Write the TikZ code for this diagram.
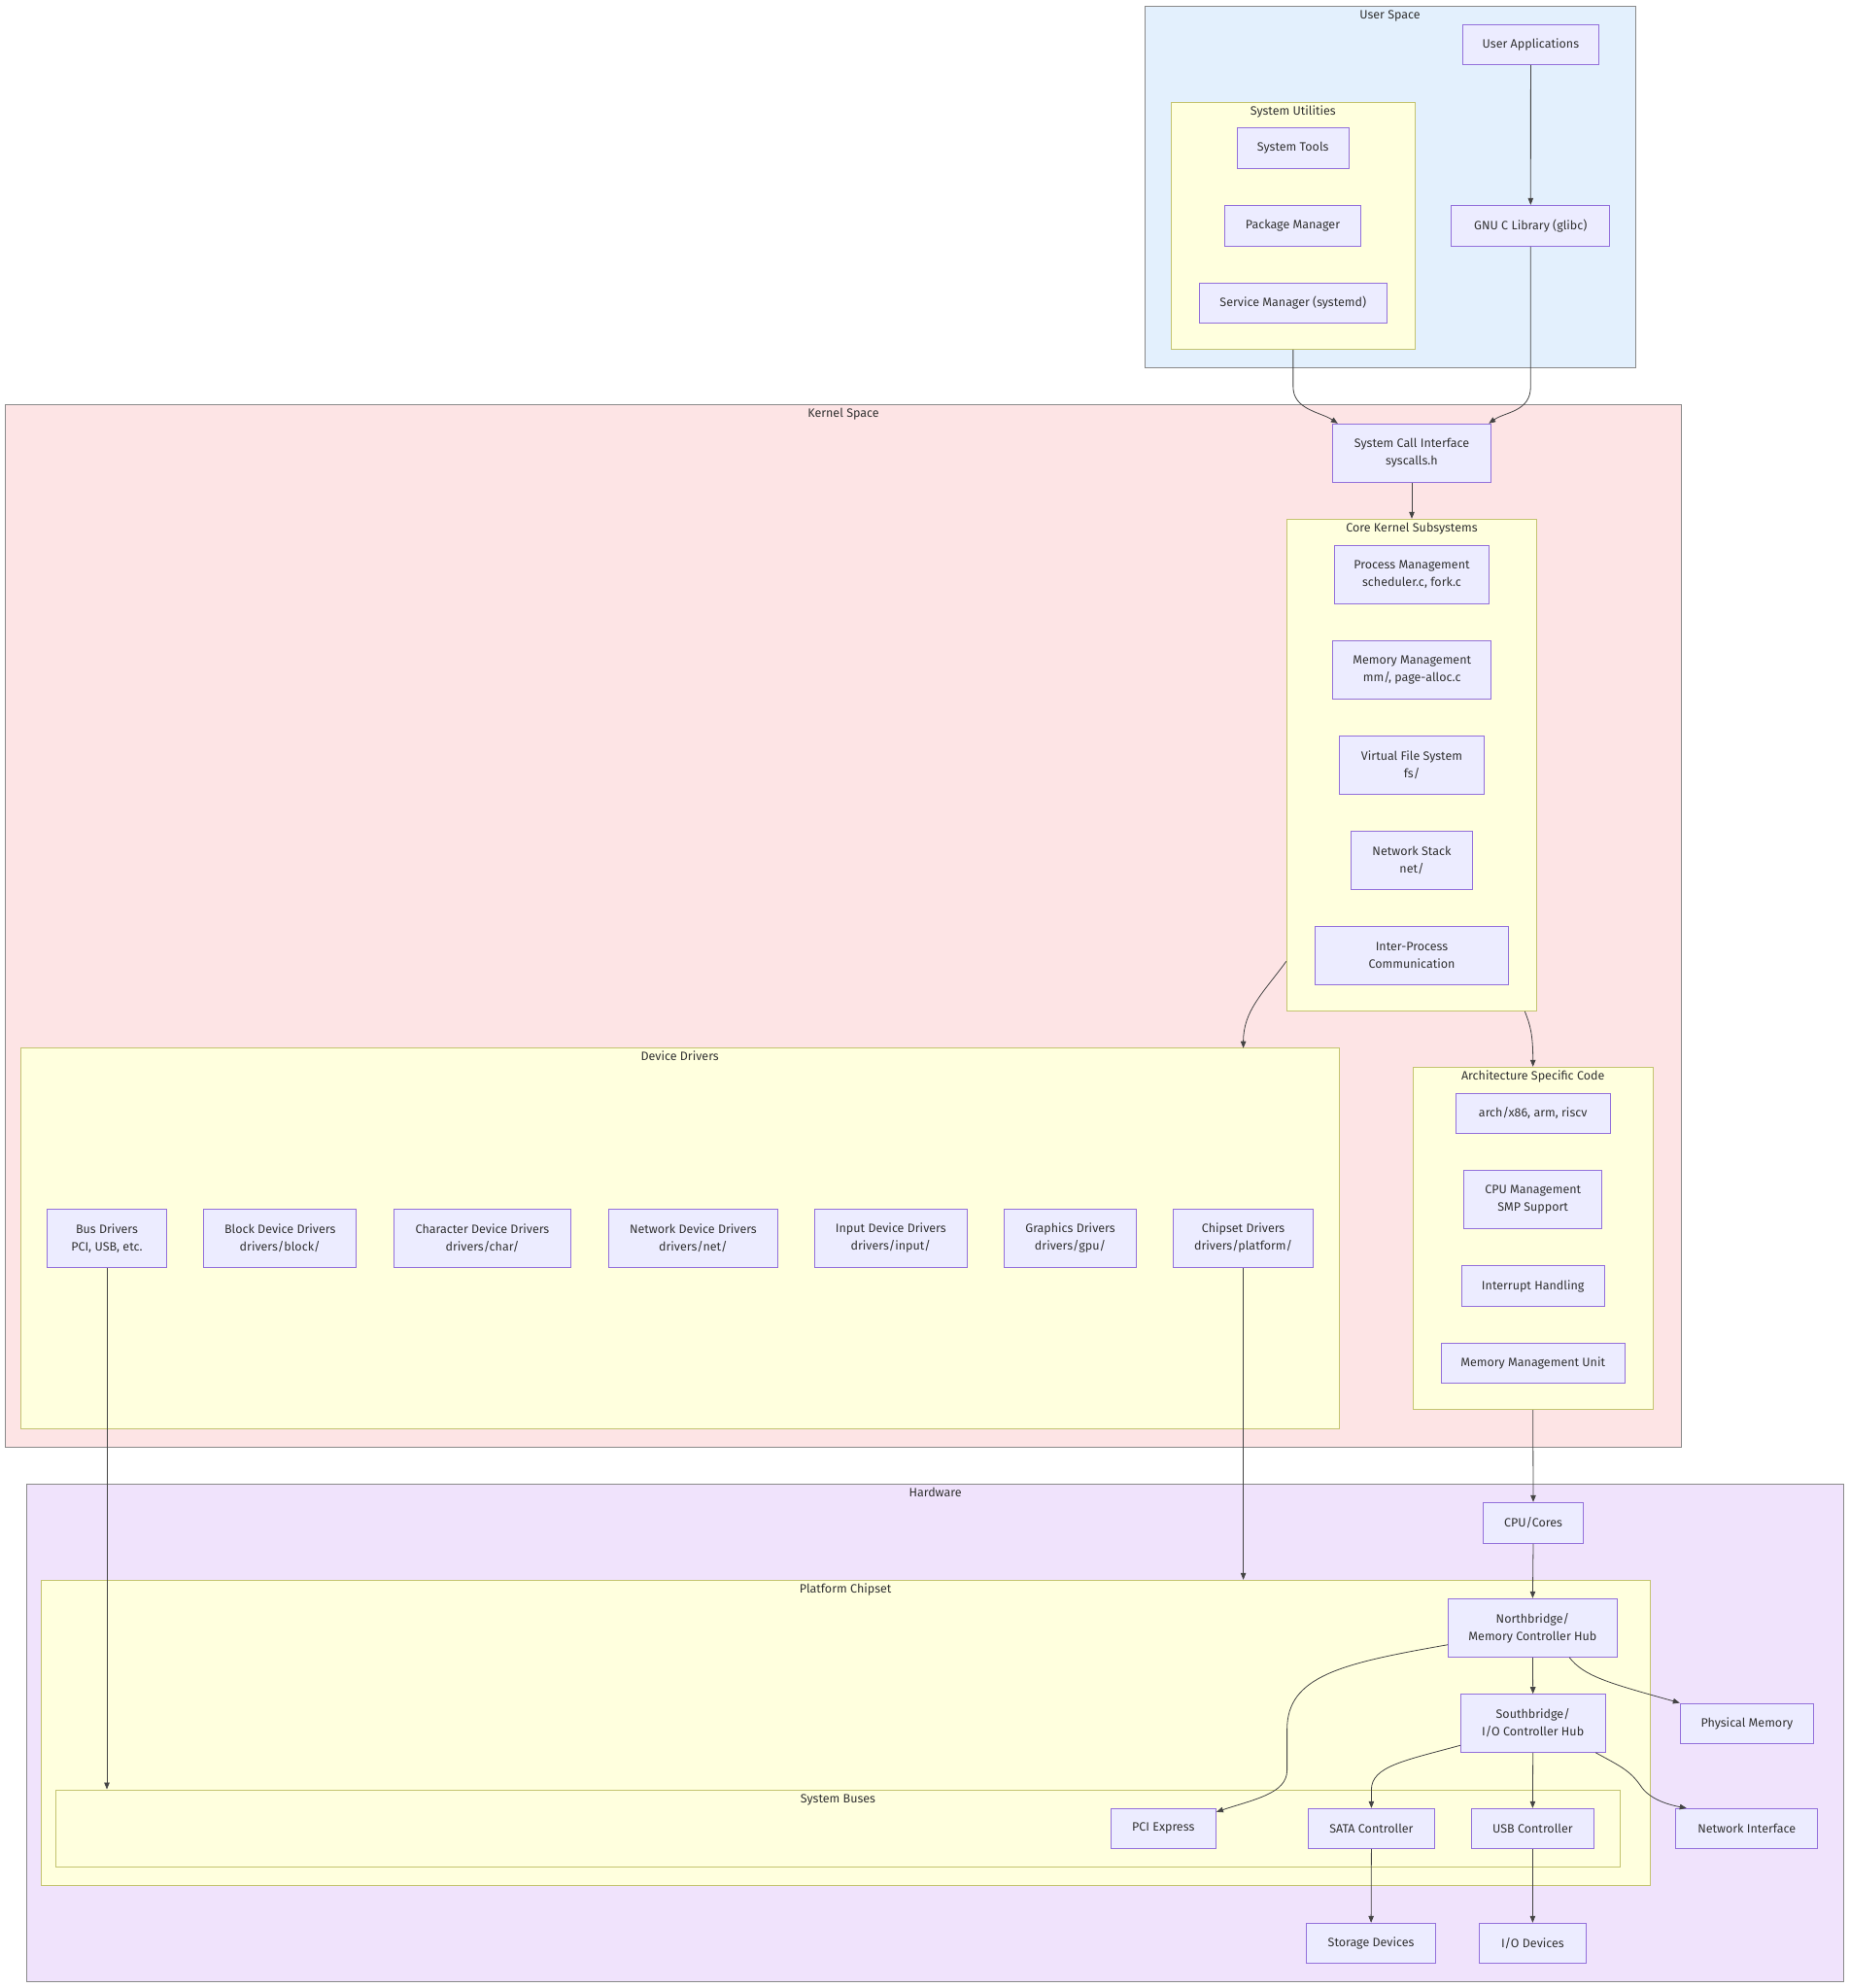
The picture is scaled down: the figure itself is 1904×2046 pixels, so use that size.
\documentclass[tikz,border=0pt]{standalone}
\usepackage{fontspec}
\setmainfont{Fira Sans}
\usetikzlibrary{arrows.meta,calc}
\definecolor{nodefill}{HTML}{ECECFF}
\definecolor{nodeline}{HTML}{9370DB}
\definecolor{clfill}{HTML}{FFFFDE}
\definecolor{clline}{HTML}{C4C470}
\definecolor{userfill}{HTML}{E3F0FD}
\definecolor{kernfill}{HTML}{FDE4E5}
\definecolor{hwfill}{HTML}{F0E3FC}
\definecolor{outerline}{HTML}{8A8A8A}
\definecolor{txt}{HTML}{333333}
\definecolor{edgec}{HTML}{444444}
\begin{document}
\begin{tikzpicture}[x=1pt,y=-1pt,
  every node/.append style={font=\fontsize{12.5}{18}\selectfont, text=txt},
  nd/.style 2 args={draw=nodeline, fill=nodefill, line width=1pt, align=center, inner sep=0pt, minimum width=#1, minimum height=#2},
  grp/.style 2 args={draw=clline, fill=clfill, line width=1pt, inner sep=0pt, minimum width=#1, minimum height=#2},
  outer/.style 2 args={draw=outerline, line width=1pt, inner sep=0pt, minimum width=#1, minimum height=#2},
  ttl/.style={anchor=base, inner sep=0pt},
  ed/.style={draw=edgec, line width=0.8pt, -{Triangle[length=7pt,width=5.5pt]}}
]
\fill[white] (0,0) rectangle (1904,2046);
\useasboundingbox (0,0) rectangle (1904,2046);

% ---------- clusters ----------
\node[outer={505}{372}, fill=userfill] (us) at (1430.5,192) {};
\node[ttl] at ($(us.north)+(0,13.5)$) {User Space};
\node[grp={250.3}{254.3}] (su) at (1330.85,232.15) {};
\node[ttl] at ($(su.north)+(0,13.5)$) {System Utilities};

\node[outer={1725}{1072.6}, fill=kernfill] (ks) at (868,953) {};
\node[ttl] at ($(ks.north)+(0,13.5)$) {Kernel Space};
\node[grp={257.4}{506.1}] (ck) at (1453,787.35) {};
\node[ttl] at ($(ck.north)+(0,13.5)$) {Core Kernel Subsystems};
\node[grp={1357.3}{391.3}] (dd) at (699.65,1274.35) {};
\node[ttl] at ($(dd.north)+(0,13.5)$) {Device Drivers};
\node[grp={246.6}{352.4}] (ar) at (1577.7,1274.5) {};
\node[ttl] at ($(ar.north)+(0,13.5)$) {Architecture Specific Code};

\node[outer={1869.9}{512}, fill=hwfill] (hw) at (962.55,1783.3) {};
\node[ttl] at ($(hw.north)+(0,13.5)$) {Hardware};
\node[grp={1656.1}{314.4}] (pc) at (870.15,1783.5) {};
\node[ttl] at ($(pc.north)+(0,13.5)$) {Platform Chipset};
\node[grp={1610.2}{79.7}] (sbus) at (862.5,1881.85) {};
\node[ttl] at ($(sbus.north)+(0,13.5)$) {System Buses};

% ---------- user space nodes ----------
\node[nd={140.7}{41}] (ua) at (1575.4,45.8) {User Applications};
\node[nd={115.3}{41.6}] (st) at (1330.7,152.5) {System Tools};
\node[nd={140.4}{42}] (pm) at (1330.5,232.3) {Package Manager};
\node[nd={193}{41.4}] (sm) at (1330.8,312) {Service Manager (systemd)};
\node[nd={162.7}{42}] (gl) at (1575.3,232.3) {GNU C Library (glibc)};

% ---------- kernel nodes ----------
\node[nd={163.4}{60}] (sci) at (1453,466.3) {System Call Interface\\syscalls.h};
\node[nd={159.4}{59.6}] (proc) at (1453,591.4) {Process Management\\scheduler.c, fork.c};
\node[nd={163}{59.6}] (mem) at (1453.2,689.4) {Memory Management\\mm/, page-alloc.c};
\node[nd={149.4}{59.5}] (vfs) at (1453,787.4) {Virtual File System\\fs/};
\node[nd={125.4}{60}] (net) at (1453,885.5) {Network Stack\\net/};
\node[nd={199.4}{60}] (ipc) at (1453,983.5) {Inter-Process\\Communication};

\node[nd={123}{60}] (bus) at (110,1274.3) {Bus Drivers\\PCI, USB, etc.};
\node[nd={157}{60}] (blk) at (288.2,1274.3) {Block Device Drivers\\drivers/block/};
\node[nd={181.8}{60}] (chr) at (496.5,1274.3) {Character Device Drivers\\drivers/char/};
\node[nd={174}{60}] (ndd) at (713.4,1274.3) {Network Device Drivers\\drivers/net/};
\node[nd={157.5}{60}] (inp) at (916.8,1274.3) {Input Device Drivers\\drivers/input/};
\node[nd={136}{60}] (gfx) at (1101.5,1274.3) {Graphics Drivers\\drivers/gpu/};
\node[nd={144.2}{60}] (chp) at (1279.6,1274.3) {Chipset Drivers\\drivers/platform/};

\node[nd={158.7}{41.3}] (a86) at (1577.7,1145.7) {arch/x86, arm, riscv};
\node[nd={142}{59.6}] (cpum) at (1577.7,1234.5) {CPU Management\\SMP Support};
\node[nd={147.3}{41.6}] (irq) at (1577.7,1323.5) {Interrupt Handling};
\node[nd={189.3}{41.3}] (mmu) at (1577.7,1403.3) {Memory Management Unit};

% ---------- hardware nodes ----------
\node[nd={103}{42}] (cpu) at (1578,1567.3) {CPU/Cores};
\node[nd={173.6}{60}] (nb) at (1577.4,1675.3) {Northbridge/\\Memory Controller Hub};
\node[nd={148.8}{59.6}] (sb) at (1577.7,1773.5) {Southbridge/\\I/O Controller Hub};
\node[nd={137.2}{41.3}] (phys) at (1797.9,1773.7) {Physical Memory};
\node[nd={108.4}{41}] (pcie) at (1197.2,1881.8) {PCI Express};
\node[nd={129.7}{41}] (sata) at (1411.4,1881.8) {SATA Controller};
\node[nd={126.2}{41}] (usb) at (1577.4,1881.8) {USB Controller};
\node[nd={145.9}{41}] (ni) at (1797.7,1881.8) {Network Interface};
\node[nd={132.6}{41}] (sto) at (1411.1,1999.8) {Storage Devices};
\node[nd={110.2}{41}] (iod) at (1577.4,1999.8) {I/O Devices};

% ---------- edges ----------
\draw[ed] (ua.south) -- (gl.north);
\draw[ed] (su.south) -- ++(0,38) .. controls ($(su.south)+(0,62)$) and ($(sci.north west)+(-12,-12)$) .. ($(sci.north west)+(6,0)$);
\draw[ed] (gl.south) -- ++(0,144) .. controls ($(gl.south)+(0,170)$) and ($(sci.north east)+(14,-12)$) .. ($(sci.north east)+(-3,0)$);
\draw[ed] (sci.south) -- (ck.north);
\draw[ed] ($(ck.west)+(0,202)$) .. controls (1300,1022) and (1279.6,1040) .. (1279.6,1078.7);
\draw[ed] ($(ck.south)+(116.3,0)$) .. controls (1575,1055) and (1577.7,1065) .. (ar.north);
\draw[ed] (ar.south) -- (cpu.north);
\draw[ed] (bus.south) -- (bus.south |- sbus.north);
\draw[ed] (chp.south) -- (chp.south |- pc.north);
\draw[ed] (cpu.south) -- (nb.north);
\draw[ed] (nb.south) -- (sb.north);
\draw[ed] ($(nb.south)+(37.8,0)$) .. controls (1630,1725) and (1655,1732) .. (phys.north west);
\draw[ed] ($(nb.west)+(0,17.4)$) .. controls (1380,1712) and (1324.6,1725) .. (1324.6,1780) -- (1324.6,1822) .. controls (1324.6,1846) and (1290,1852) .. ($(pcie.north east)+(0,4)$);
\draw[ed] ($(sb.west)+(0,22.8)$) .. controls (1445,1812) and (1411.4,1818) .. (1411.4,1842) -- (sata.north);
\draw[ed] (sb.south) -- (usb.north);
\draw[ed] ($(sb.south)+(64.6,0)$) .. controls (1668,1818) and (1678,1822) .. (1690,1840) .. controls (1700,1853) and (1720,1858) .. ($(ni.north west)+(11.5,0)$);
\draw[ed] (sata.south) -- (sto.north);
\draw[ed] (usb.south) -- (iod.north);
\end{tikzpicture}
\end{document}
